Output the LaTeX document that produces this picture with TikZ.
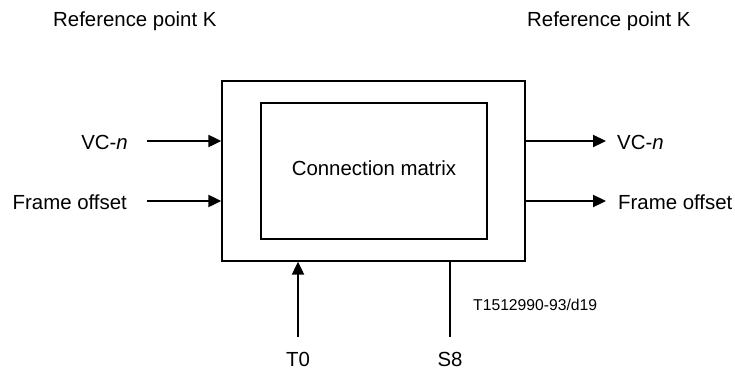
\documentclass[tikz,border=0pt]{standalone}
\usepackage{fontspec}
\setmainfont{Liberation Sans}
\usetikzlibrary{arrows.meta}
\begin{document}
\begin{tikzpicture}[x=1pt,y=-1pt,
  lbl/.style={inner sep=0pt,font=\fontsize{20.4}{24}\selectfont},
  small/.style={inner sep=0pt,font=\fontsize{15.7}{19}\selectfont},
  boxline/.style={draw,line width=1.4pt,inner sep=0pt},
  sig/.style={line width=2.2pt},
  arr/.style={sig,-{Triangle[length=13pt,width=12pt]}}]
\useasboundingbox (0,0) rectangle (735,369);

% switch block and its inner matrix
\node[boxline,minimum width=303pt,minimum height=180pt] (outer) at (373.5,171) {};
\node[boxline,minimum width=226pt,minimum height=136pt] (inner) at (374,171) {};
\node[lbl] (cm) at (374,168) {Connection matrix};

% reference point captions
\node[lbl,anchor=west] (refL) at (53,21) {Reference point K};
\node[lbl,anchor=west] (refR) at (527,21) {Reference point K};

% inputs
\node[lbl,anchor=east] (vcL) at (128,142) {VC-\textit{n}};
\node[lbl,anchor=east] (foL) at (127,202) {Frame offset};
\coordinate (vcLs) at (147,141);
\coordinate (foLs) at (147,201);
\draw[arr] (vcLs) -- (outer.west |- vcLs);
\draw[arr] (foLs) -- (outer.west |- foLs);

% outputs
\node[lbl,anchor=west] (vcR) at (617,142) {VC-\textit{n}};
\node[lbl,anchor=west] (foR) at (618,202) {Frame offset};
\coordinate (vcRe) at (606,141);
\coordinate (foRe) at (606,201);
\draw[arr] (outer.east |- vcRe) -- (vcRe);
\draw[arr] (outer.east |- foRe) -- (foRe);

% timing inputs below
\node[lbl] (t0) at (298,359) {T0};
\node[lbl] (s8) at (450,359) {S8};
\coordinate (t0s) at (298,337);
\coordinate (s8e) at (450,337);
\draw[arr] (t0s) -- (t0s |- outer.south);
\draw[sig] (s8e |- outer.south) -- (s8e);

\node[small,anchor=west] (tag) at (473,305) {T1512990-93/d19};
\end{tikzpicture}
\end{document}
